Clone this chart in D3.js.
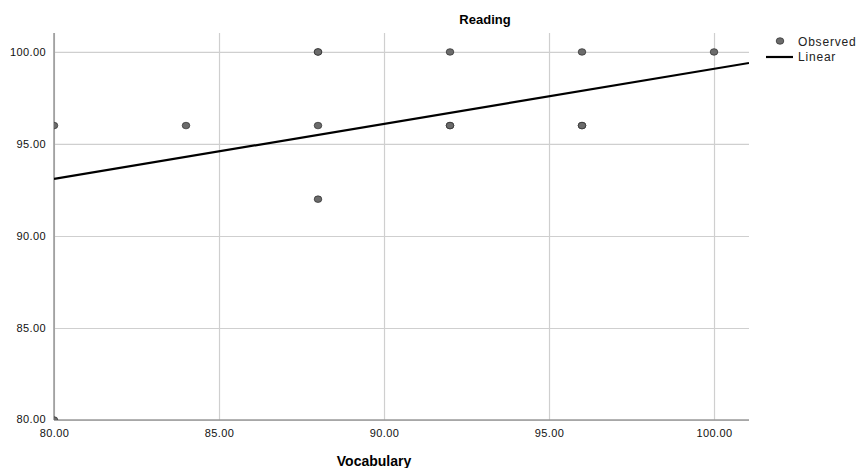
<!DOCTYPE html>
<html>
<head>
<meta charset="utf-8">
<script src="https://cdn.jsdelivr.net/npm/d3@7"></script>
<style>
  body { margin: 0; background: #fff; }
  text { font-family: "Liberation Sans", Arial, sans-serif; }
</style>
</head>
<body>
<div id="chart"></div>
<script>
// observed points (Vocabulary, Reading)
var vocabulary = [80, 80, 84, 88, 88, 88, 88, 92, 92, 92, 96, 96, 96, 100];
var reading    = [80, 96, 96, 100, 100, 96, 92, 100, 96, 96, 100, 96, 96, 100];
// linear fit endpoints
var fitX = [80, 101.06];
var fitY = [93.1, 99.4];
// ticks
var xTicks = [80, 85, 90, 95, 100];
var yTicks = [80, 85, 90, 95, 100];

var svgWidth = 860, svgHeight = 468;
var margin = {top: 33, right: 111, bottom: 48, left: 54};
var chartWidth = svgWidth - margin.left - margin.right;
var chartHeight = svgHeight - margin.top - margin.bottom;

var svg = d3.select("#chart").append("svg")
  .attr("width", svgWidth)
  .attr("height", svgHeight);

var chartGroup = svg.append("g")
  .attr("transform", `translate(${margin.left}, ${margin.top})`);

var xScale = d3.scaleLinear().domain([80, 101.06]).range([0, chartWidth]);
var yScale = d3.scaleLinear().domain([80, 101.03]).range([chartHeight, 0]);

// clip so edge points are cut like in the original
svg.append("defs").append("clipPath").attr("id", "plotClip")
  .append("rect").attr("width", chartWidth).attr("height", chartHeight);

// gridlines
chartGroup.append("g")
  .call(d3.axisBottom(xScale).tickValues(xTicks).tickSize(-chartHeight).tickFormat(""))
  .attr("transform", `translate(0, ${chartHeight})`)
  .call(g => g.select(".domain").remove())
  .selectAll("line").attr("stroke", "#cfcfcf").attr("stroke-width", 1.2);

chartGroup.append("g")
  .call(d3.axisLeft(yScale).tickValues(yTicks).tickSize(-chartWidth).tickFormat(""))
  .call(g => g.select(".domain").remove())
  .selectAll("line").attr("stroke", "#cfcfcf").attr("stroke-width", 1.2);

// axis lines
chartGroup.append("line")
  .attr("x1", 0).attr("x2", 0).attr("y1", 0).attr("y2", chartHeight)
  .attr("stroke", "#8a8a8a").attr("stroke-width", 1.3);
chartGroup.append("line")
  .attr("x1", 0).attr("x2", chartWidth).attr("y1", chartHeight).attr("y2", chartHeight)
  .attr("stroke", "#9a9a9a").attr("stroke-width", 1.3);

// tick labels
var xAxis = chartGroup.append("g")
  .attr("transform", `translate(0, ${chartHeight})`)
  .call(d3.axisBottom(xScale).tickValues(xTicks).tickSize(0).tickPadding(9).tickFormat(d3.format(".2f")));
xAxis.select(".domain").remove();
xAxis.selectAll("text").attr("font-size", 11).attr("fill", "#111")
  .attr("letter-spacing", 0.4)
  .style("font-family", "'Liberation Sans', Arial, sans-serif");

var yAxis = chartGroup.append("g")
  .call(d3.axisLeft(yScale).tickValues(yTicks).tickSize(0).tickPadding(8).tickFormat(d3.format(".2f")));
yAxis.select(".domain").remove();
yAxis.selectAll("text").attr("font-size", 11).attr("fill", "#111")
  .attr("letter-spacing", 0.4)
  .attr("dy", (d) => d === 80 ? "0.2em" : "0.32em")
  .style("font-family", "'Liberation Sans', Arial, sans-serif");

// points and fit line, clipped to plot
var plot = chartGroup.append("g").attr("clip-path", "url(#plotClip)");

plot.append("line")
  .attr("x1", xScale(fitX[0])).attr("y1", yScale(fitY[0]))
  .attr("x2", xScale(fitX[1])).attr("y2", yScale(fitY[1]))
  .attr("stroke", "#000").attr("stroke-width", 2.2);

plot.selectAll("ellipse")
  .data(vocabulary)
  .enter().append("ellipse")
  .attr("cx", d => xScale(d))
  .attr("cy", (d, i) => yScale(reading[i]))
  .attr("rx", 3.8).attr("ry", 3.3)
  .attr("fill", "#6b6b6b")
  .attr("stroke", "#2e2e2e")
  .attr("stroke-opacity", 0.7)
  .attr("stroke-width", 1);

// titles
svg.append("text")
  .attr("x", 485).attr("y", 24)
  .attr("text-anchor", "middle")
  .attr("font-size", 13).attr("font-weight", "bold")
  .text("Reading");

svg.append("text")
  .attr("x", 374).attr("y", 466)
  .attr("text-anchor", "middle")
  .attr("font-size", 14).attr("font-weight", "bold")
  .text("Vocabulary");

// legend
var legend = svg.append("g");
legend.append("ellipse")
  .attr("cx", 780).attr("cy", 41).attr("rx", 3.8).attr("ry", 3.3)
  .attr("fill", "#6b6b6b").attr("stroke", "#2e2e2e").attr("stroke-opacity", 0.7);
legend.append("text")
  .attr("x", 798).attr("y", 46)
  .attr("font-size", 12).attr("letter-spacing", 0.8).attr("fill", "#222")
  .text("Observed");
legend.append("line")
  .attr("x1", 766).attr("x2", 793).attr("y1", 57).attr("y2", 57)
  .attr("stroke", "#000").attr("stroke-width", 2.2);
legend.append("text")
  .attr("x", 798).attr("y", 61)
  .attr("font-size", 12).attr("letter-spacing", 0.8).attr("fill", "#222")
  .text("Linear");
</script>
</body>
</html>
